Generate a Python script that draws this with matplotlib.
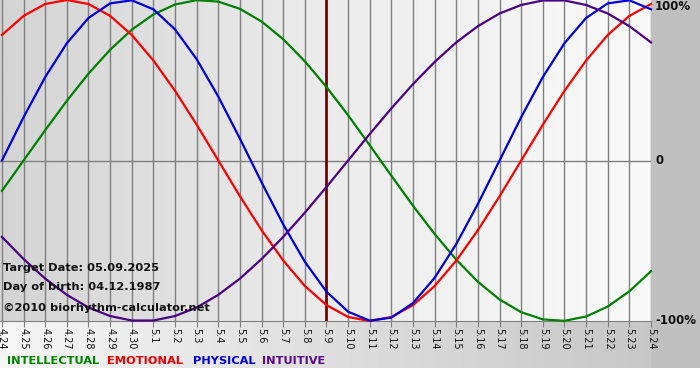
import numpy as np
import matplotlib
matplotlib.use("Agg")
import matplotlib.pyplot as plt

# day labels (month.day) from 4.24 to 5.24
days = ["4.24", "4.25", "4.26", "4.27", "4.28", "4.29", "4.30",
        "5.1", "5.2", "5.3", "5.4", "5.5", "5.6", "5.7", "5.8", "5.9",
        "5.10", "5.11", "5.12", "5.13", "5.14", "5.15", "5.16", "5.17",
        "5.18", "5.19", "5.20", "5.21", "5.22", "5.23", "5.24"]
target_day = "5.9"

# values per day (-1 .. 1)
physical = [0.0, 0.27, 0.52, 0.731, 0.888, 0.979, 0.998, 0.942, 0.817, 0.631,
            0.398, 0.136, -0.136, -0.398, -0.631, -0.817, -0.942, -0.998, -0.979,
            -0.888, -0.731, -0.52, -0.27, 0.0, 0.27, 0.52, 0.731, 0.888, 0.979,
            0.998, 0.942]
emotional = [0.782, 0.901, 0.975, 1.0, 0.975, 0.901, 0.782, 0.623, 0.434, 0.223,
             0.0, -0.223, -0.434, -0.623, -0.782, -0.901, -0.975, -1.0, -0.975,
             -0.901, -0.782, -0.623, -0.434, -0.223, 0.0, 0.223, 0.434, 0.623,
             0.782, 0.901, 0.975]
intellectual = [-0.189, 0.0, 0.189, 0.372, 0.541, 0.69, 0.815, 0.91, 0.972, 0.999,
                0.99, 0.945, 0.866, 0.756, 0.618, 0.458, 0.282, 0.095, -0.095,
                -0.282, -0.458, -0.618, -0.756, -0.866, -0.945, -0.99, -0.999,
                -0.972, -0.91, -0.815, -0.69]
intuitive = [-0.476, -0.614, -0.736, -0.837, -0.916, -0.969, -0.997, -0.997, -0.969,
             -0.916, -0.837, -0.736, -0.614, -0.476, -0.325, -0.165, 0.0, 0.165,
             0.325, 0.476, 0.614, 0.736, 0.837, 0.916, 0.969, 0.997, 0.997, 0.969,
             0.916, 0.837, 0.736]

W, H = 700, 380
fig = plt.figure(figsize=(7, 3.8), dpi=100, facecolor="white")

# background band behind everything (light left -> gray right)
bg = fig.add_axes([0, 0, 1, 1])
bg.set_xlim(0, W)
bg.set_ylim(H, 0)
bg.axis("off")
band = np.linspace(0, 1, 256).reshape(1, -1)
bg.imshow(band, cmap=matplotlib.colors.LinearSegmentedColormap.from_list(
    "b", ["#f6f6f6", "#c4c4c4"]), extent=[0, W, 368, 0], aspect="auto")
bg.add_patch(plt.Rectangle((651, 0), 49, 368, color="#c0c0c0", lw=0))

ax = fig.add_axes([0, (H - 321) / H, 651 / W, 321 / H])
x = np.arange(len(days))
ax.set_xlim(-0.09, 30.0)
ax.set_ylim(-1, 1)
ax.imshow(band, cmap=matplotlib.colors.LinearSegmentedColormap.from_list(
    "p", ["#d4d4d4", "#ececec", "#fafafa"]), extent=[-0.09, 30.0, -1, 1],
    aspect="auto", zorder=0)

for xi in x:
    ax.axvline(xi, color="#808080", lw=1, zorder=1)
ax.axhline(0, color="#808080", lw=1, zorder=1)
ax.axvline(days.index(target_day), color="#800000", lw=2, zorder=2)

ax.plot(x, intellectual, color="#008000", lw=1.6, zorder=3, clip_on=False)
ax.plot(x, emotional, color="#ff0000", lw=1.6, zorder=3, clip_on=False)
ax.plot(x, physical, color="#0000dd", lw=1.6, zorder=3, clip_on=False)
ax.plot(x, intuitive, color="#4b0082", lw=1.6, zorder=3, clip_on=False)

for s in ["top", "right", "left"]:
    ax.spines[s].set_visible(False)
ax.spines["bottom"].set_color("#808080")
ax.set_yticks([])
ax.set_xticks(x)
ax.set_xticklabels(days, rotation=270, fontsize=7, color="#111111")
ax.tick_params(axis="x", direction="out", length=4, color="#808080", pad=1)

ax.text(0.004, 0.155, "Target Date: 05.09.2025", transform=ax.transAxes,
        fontsize=8.2, fontweight="bold", color="#111111", zorder=4)
ax.text(0.004, 0.097, "Day of birth: 04.12.1987", transform=ax.transAxes,
        fontsize=8.2, fontweight="bold", color="#111111", zorder=4)
ax.text(0.004, 0.03, "\u00a92010 biorhythm-calculator.net", transform=ax.transAxes,
        fontsize=8.2, fontweight="bold", color="#111111", zorder=4)

for lab, ypx in [("100%", 7), ("0", 161), ("-100%", 321)]:
    fig.text(655 / W, 1 - ypx / H, lab, fontsize=8.5, fontweight="bold",
             va="center", ha="left", color="#111111")

for lab, col, xpx in [("INTELLECTUAL", "#008000", 7), ("EMOTIONAL", "#ee0000", 107),
                      ("PHYSICAL", "#0000dd", 193), ("INTUITIVE", "#5a0a8a", 262)]:
    fig.text(xpx / W, 1 - 361 / H, lab, fontsize=8.2, fontweight="bold",
             va="center", ha="left", color=col)

fig.savefig("out.png", dpi=100, facecolor="white")
